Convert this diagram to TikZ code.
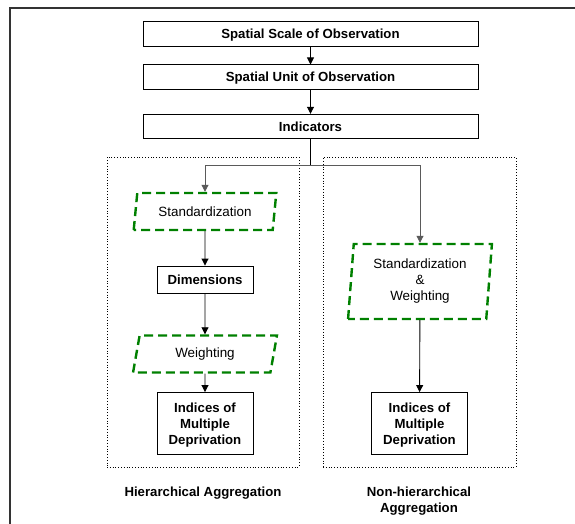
\documentclass[tikz,border=0pt]{standalone}
\usepackage{fontspec}
\setmainfont{Liberation Sans}
\usetikzlibrary{positioning, shapes.geometric, arrows.meta, calc}
\definecolor{stepgreen}{RGB}{0,128,0}
\definecolor{linkgray}{RGB}{90,90,90}

\begin{document}
\begin{tikzpicture}[x=1pt, y=-1pt,
    box/.style={draw, line width=0.9pt, align=center, inner sep=1pt, text depth=0pt, font=\fontsize{13.2}{16}\selectfont\bfseries},
    wide/.style={box, minimum width=335pt, minimum height=24.5pt},
    small/.style={box, minimum width=96pt, minimum height=27pt},
    result/.style={box, minimum width=96pt, minimum height=62pt},
    method/.style={trapezium, trapezium stretches=true, draw=stepgreen, line width=2.4pt, dash pattern=on 9pt off 5pt, align=center, inner sep=1pt, font=\fontsize{13.4}{16}\selectfont},
    frame/.style={draw, dotted, line width=0.8pt},
    arrow/.style={-{Triangle[length=7pt, width=7pt]}, line width=0.9pt},
    caption/.style={align=center, font=\fontsize{13.2}{16}\selectfont\bfseries}
]
\useasboundingbox (0,0) rectangle (575,524);

% outer border (only left and top visible)
\draw[line width=1.6pt, black!80] (10,524) -- (10,8) -- (575,8);

% Common chain
\node[wide] (scale) at (310.5,34.2) {Spatial Scale of Observation};
\node[wide] (unit) at (310.5,77.2) {Spatial Unit of Observation};
\node[wide] (indic) at (310.5,126.5) {Indicators};

\draw[arrow] (scale) -- (unit);
\draw[arrow] (unit) -- (indic);

% Aggregation frames
\node[frame, minimum width=192pt, minimum height=310pt] (frameL) at (203,312) {};
\node[frame, minimum width=193pt, minimum height=310pt] (frameR) at (419.5,312) {};

% Hierarchical branch
\node[method, trapezium left angle=78, trapezium right angle=102, minimum width=144pt, minimum height=37pt] (stdL) at (205,211.5) {Standardization};
\node[small] (dimL) at (205,279.5) {Dimensions};
\node[method, trapezium left angle=78, trapezium right angle=102, minimum width=144pt, minimum height=37pt] (wgtL) at (205,354) {Weighting};
\node[result] (imdL) at (205,423.5) {Indices of\\Multiple\\Deprivation};

% Non-hierarchical branch
\node[method, trapezium left angle=85, trapezium right angle=95, minimum width=144pt, minimum height=75pt] (stdwR) at (420,281.5) {Standardization\\\&\\Weighting};
\node[result] (imdR) at (419.5,423.5) {Indices of\\Multiple\\Deprivation};

% Connectors
\coordinate (branch) at (310.5,165.5);
\draw[line width=0.9pt] (indic) -- (branch);
\draw[arrow, linkgray] (branch) -| (stdL.north);
\draw[arrow, linkgray] (branch) -| (stdwR.north);
\draw[arrow] (stdL) -- (dimL);
\draw[arrow] (dimL) -- (wgtL);
\draw[arrow] (wgtL) -- (imdL);
\draw[arrow] (stdwR) -- (imdR);

% Captions
\node[caption] (capL) at (203,493) {Hierarchical Aggregation};
\node[caption] (capR) at (419,501) {Non-hierarchical\\Aggregation};

\end{tikzpicture}
\end{document}
